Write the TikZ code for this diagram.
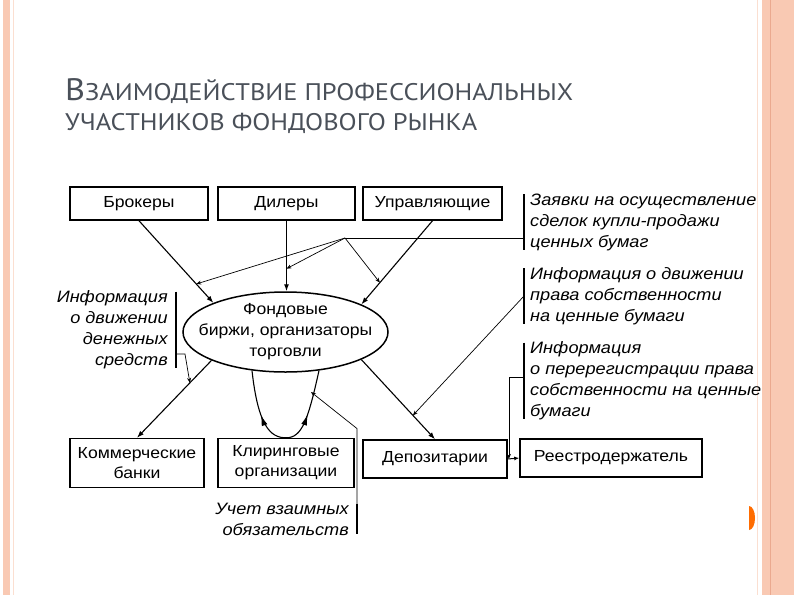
\documentclass[tikz,border=0pt]{standalone}
\usepackage{fontspec}
\setmainfont[FakeStretch=1.1]{Liberation Sans}
\newfontfamily\titlefont[FakeStretch=1.1]{PT Sans}
\usetikzlibrary{arrows.meta,decorations.markings,shapes.geometric}

\definecolor{slidepink}{HTML}{F9C9B3}
\definecolor{slideline}{HTML}{EBA98F}
\definecolor{titlegray}{HTML}{4A5059}

\tikzset{
  unitbox/.style={draw, line width=1.5pt, minimum height=33pt, inner sep=2pt, align=center, font=\fontsize{16}{20}\selectfont},
  notebox/.style={align=left, anchor=west, inner sep=2pt, font=\itshape\fontsize{16.5}{21}\selectfont},
  flow/.style={line width=1.1pt, -{Latex[length=7pt,width=5pt]}},
  info/.style={line width=0.7pt, -{Stealth[length=5pt,width=4pt]}},
  bracket/.style={line width=1.6pt, shorten <=3pt, shorten >=3pt},
}

\begin{document}
\begin{tikzpicture}[x=1pt,y=-1pt]
  % Fundo do slide
  \useasboundingbox (0,0) rectangle (794,595);
  \fill[white] (0,0) rectangle (794,595);
  \fill[slidepink] (3,0) rectangle (10,595);
  \draw[slidepink!60, line width=0.8pt] (13,0) -- (13,595);
  \draw[slidepink!60, line width=0.8pt] (757,0) -- (757,595);
  \fill[slidepink] (762,0) rectangle (794,595);
  \draw[slideline, line width=0.8pt] (770,0) -- (770,595);
  \fill[orange!85!red] (749,506) arc[start angle=-90, end angle=90, x radius=6, y radius=12];

  % Titulo
  \node[anchor=base west, text=titlegray, inner sep=0] (title1) at (65,100)
    {\titlefont\fontsize{31}{31}\selectfont В\fontsize{24}{24}\selectfont ЗАИМОДЕЙСТВИЕ ПРОФЕССИОНАЛЬНЫХ};
  \node[anchor=base west, text=titlegray, inner sep=0] (title2) at (65,130)
    {\titlefont\fontsize{24}{24}\selectfont УЧАСТНИКОВ ФОНДОВОГО РЫНКА};

  % Participantes
  \node[unitbox, minimum width=138pt] (brokers) at (139,203.5) {Брокеры};
  \node[unitbox, minimum width=137pt] (dealers) at (286.5,203.5) {Дилеры};
  \node[unitbox, minimum width=139pt] (managers) at (432.5,203.5) {Управляющие};
  \node[draw, ellipse, line width=1.5pt, minimum width=205pt, minimum height=80pt,
    inner xsep=-16pt, inner ysep=-4pt, align=center, font=\fontsize{16}{21}\selectfont] (exch) at (285.5,332)
    {Фондовые\\биржи, организаторы\\торговли};
  \node[unitbox, minimum width=134pt, minimum height=49pt] (banks) at (137,463) {Коммерческие\\банки};
  \node[unitbox, minimum width=136pt, minimum height=49pt] (clearing) at (286,463) {Клиринговые\\организации};
  \node[unitbox, minimum width=144pt, minimum height=38pt] (depo) at (435,459) {Депозитарии};
  \node[unitbox, minimum width=182pt, minimum height=38pt] (reg) at (611,458) {Реестродержатель};

  % Ligacoes principais
  \draw[flow] (brokers.south) -- (exch.158) coordinate[pos=0.77] (bkpt);
  \draw[flow] (dealers.south) -- (dealers.south |- exch.north) coordinate[pos=0.68] (dlpt);
  \draw[flow] (managers.south) -- (exch.20) coordinate[pos=0.74] (mgpt);
  \draw[flow] (exch.201) -- (banks.north) coordinate[pos=0.29] (bnpt);
  \draw[flow] (exch.340) -- (depo.north) coordinate[pos=0.7] (dppt);
  \draw[line width=1pt, -{Latex[length=5pt,width=4pt]}] (depo.east) -- (reg.west) coordinate[pos=0.1] (drpt);

  % Laco da compensacao
  \draw[line width=1.1pt, postaction={decorate}, decoration={markings,
      mark=at position 0.28 with {\arrowreversed{Latex[length=11pt,width=6pt]}},
      mark=at position 0.72 with {\arrow{Latex[length=11pt,width=6pt]}}}]
    (exch.229) .. controls (258,425) and (270,438) .. (clearing.north)
    .. controls (302,438) and (308,420) .. (exch.311);

  % Notas
  \node[notebox] (orders) at (528,222) {Заявки на осуществление\\сделок купли-продажи\\ценных бумаг};
  \node[notebox] (rights) at (528,296) {Информация о движении\\права собственности\\на ценные бумаги};
  \node[notebox] (rereg) at (528,381) {Информация\\о перерегистрации права\\собственности на ценные\\бумаги};
  \node[notebox, anchor=east, align=right] (money) at (170,330) {Информация\\о движении\\денежных\\средств};
  \node[notebox, anchor=east, align=right] (settle) at (351,519) {Учет взаимных\\обязательств};

  % Colchetes das notas
  \draw[bracket] ([xshift=-4pt]orders.north west) -- ([xshift=-4pt]orders.south west);
  \draw[bracket] ([xshift=-4pt]rights.north west) -- ([xshift=-4pt]rights.south west);
  \draw[bracket] ([xshift=-4pt]rereg.north west) -- ([xshift=-4pt]rereg.south west);
  \draw[bracket] ([xshift=6pt]money.north east) -- ([xshift=6pt]money.south east);
  \draw[bracket] ([xshift=6pt]settle.north east) -- ([xshift=6pt]settle.south east);

  % Ligacoes das notas
  \coordinate (hub) at (345,238);
  \coordinate (obr) at ([xshift=-4pt]orders.west);
  \draw[line width=0.7pt] (hub) -- (hub -| obr);
  \draw[info] (hub) -- (bkpt);
  \draw[info] (hub) -- (dlpt);
  \draw[info] (hub) -- (mgpt);
  \draw[info] ([xshift=-4pt]rights.west) -- (dppt);
  \draw[info] ([xshift=-4pt,yshift=4pt]rereg.west) -| (drpt);
  \draw[info] ([xshift=6pt,yshift=-24pt]money.east) -- ++(9,0) -- (bnpt);
  \coordinate (clpt) at (311,392);
  \draw[info] ([xshift=6pt,yshift=-4pt]settle.north east) -- ++(0,-76) -- (clpt);
\end{tikzpicture}
\end{document}
